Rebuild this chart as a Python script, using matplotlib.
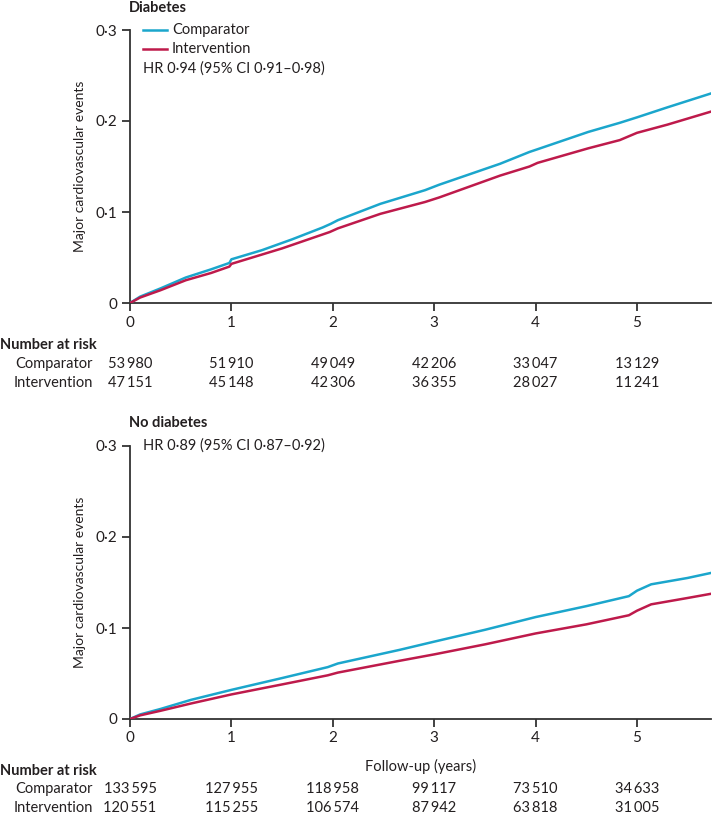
import matplotlib

matplotlib.use("Agg")
import matplotlib.pyplot as plt
import matplotlib.transforms as mtransforms
from matplotlib.lines import Line2D
from matplotlib.ticker import FuncFormatter

plt.rcParams["font.family"] = ["Lato", "DejaVu Sans"]

# ---- data ----
YEARS_DM_CMP = [0, 0.1, 0.3, 0.55, 0.8, 0.98, 1.0, 1.3, 1.6, 1.9, 1.98, 2.05, 2.47,
                2.91, 3.05, 3.65, 3.94, 4.02, 4.52, 4.83, 5.0, 5.3, 5.75]
CMP_DM = [0, 0.007, 0.016, 0.028, 0.037, 0.044, 0.048, 0.058, 0.070, 0.083, 0.087,
          0.091, 0.109, 0.124, 0.130, 0.153, 0.166, 0.169, 0.188, 0.198, 0.204, 0.215, 0.231]
YEARS_DM_INT = [0, 0.1, 0.3, 0.55, 0.8, 0.98, 1.0, 1.5, 1.97, 2.05, 2.47, 2.91, 3.05,
                3.65, 3.94, 4.02, 4.52, 4.83, 5.0, 5.3, 5.75]
INT_DM = [0, 0.006, 0.014, 0.025, 0.033, 0.040, 0.043, 0.060, 0.078, 0.082, 0.098,
          0.111, 0.116, 0.140, 0.150, 0.154, 0.170, 0.179, 0.187, 0.196, 0.211]

YEARS_ND = [0, 0.1, 0.3, 0.6, 1.0, 1.5, 1.95, 2.05, 2.66, 3.0, 3.5, 4.0, 4.5, 4.92,
            5.0, 5.14, 5.5, 5.75]
CMP_ND = [0, 0.005, 0.011, 0.021, 0.032, 0.045, 0.057, 0.061, 0.076, 0.085, 0.098,
          0.112, 0.124, 0.135, 0.141, 0.148, 0.155, 0.161]
INT_ND = [0, 0.004, 0.009, 0.017, 0.027, 0.038, 0.048, 0.051, 0.064, 0.071, 0.082,
          0.094, 0.104, 0.114, 0.119, 0.126, 0.133, 0.138]

RISK_YEARS = [0, 1, 2, 3, 4, 5]
RISK_DM_CMP = ["53\u2009980", "51\u2009910", "49\u2009049", "42\u2009206", "33\u2009047", "13\u2009129"]
RISK_DM_INT = ["47\u2009151", "45\u2009148", "42\u2009306", "36\u2009355", "28\u2009027", "11\u2009241"]
RISK_ND_CMP = ["133\u2009595", "127\u2009955", "118\u2009958", "99\u2009117", "73\u2009510", "34\u2009633"]
RISK_ND_INT = ["120\u2009551", "115\u2009255", "106\u2009574", "87\u2009942", "63\u2009818", "31\u2009005"]

C_CMP = "#1BA6CC"
C_INT = "#BE1A4B"
INK = "#231F20"
W, H = 712, 815


def fx(px):
    return px / W


def fy(py):
    return 1 - py / H


fig = plt.figure(figsize=(W / 100, H / 100), dpi=100)
ax_top = fig.add_axes([fx(130), fy(303), fx(711) - fx(130), fy(30) - fy(303)])
ax_bot = fig.add_axes([fx(130), fy(719), fx(711) - fx(130), fy(446) - fy(719)])

fmt = FuncFormatter(lambda v, p: "0" if abs(v) < 1e-9 else f"{v:.1f}".replace(".", "\u00b7"))

for ax in (ax_top, ax_bot):
    ax.set_xlim(0, 5.73)
    ax.set_ylim(0, 0.3)
    ax.set_xticks(RISK_YEARS)
    ax.set_yticks([0, 0.1, 0.2, 0.3])
    ax.yaxis.set_major_formatter(fmt)
    for s in ("top", "right"):
        ax.spines[s].set_visible(False)
    for s in ("left", "bottom"):
        ax.spines[s].set_color("#333333")
        ax.spines[s].set_linewidth(1.3)
    ax.tick_params(direction="out", length=6, width=1.3, color="#333333",
                   labelsize=11, labelcolor=INK, pad=3)
    ax.set_ylabel("Major cardiovascular events", fontsize=10, color=INK, labelpad=7)

ax_top.plot(YEARS_DM_CMP, CMP_DM, color=C_CMP, lw=1.8, zorder=3)
ax_top.plot(YEARS_DM_INT, INT_DM, color=C_INT, lw=1.8, zorder=4)
ax_bot.plot(YEARS_ND, CMP_ND, color=C_CMP, lw=1.8, zorder=3)
ax_bot.plot(YEARS_ND, INT_ND, color=C_INT, lw=1.8, zorder=4)

ax_bot.set_xlabel("Follow-up (years)", fontsize=10.5, color=INK, labelpad=10)

# titles, legend, HR text
fig.text(fx(129), fy(8), "Diabetes", fontsize=10.5, fontweight="bold", color=INK,
         ha="left", va="center")
fig.text(fx(129), fy(423), "No diabetes", fontsize=10.5, fontweight="bold", color=INK,
         ha="left", va="center")
for py, col, lab in ((30, C_CMP, "Comparator"), (49, C_INT, "Intervention")):
    fig.add_artist(Line2D([fx(143), fx(167)], [fy(py), fy(py)], color=col, lw=1.8))
    fig.text(fx(172), fy(py), lab, fontsize=10.5, color=INK, ha="left", va="center")
fig.text(fx(143), fy(69), "HR 0\u00b794 (95% CI 0\u00b791\u20130\u00b798)", fontsize=10.5,
         color=INK, ha="left", va="center")
fig.text(fx(143), fy(446), "HR 0\u00b789 (95% CI 0\u00b787\u20130\u00b792)", fontsize=10.5,
         color=INK, ha="left", va="center")

# number at risk tables
def risk_table(ax, y_head, y_cmp, y_int, cmp_vals, int_vals):
    fig.text(0.0, fy(y_head), "Number at risk", fontsize=10.5, fontweight="bold",
             color=INK, ha="left", va="center")
    fig.text(fx(93), fy(y_cmp), "Comparator", fontsize=10.5, color=INK, ha="right", va="center")
    fig.text(fx(93), fy(y_int), "Intervention", fontsize=10.5, color=INK, ha="right", va="center")
    tr = mtransforms.blended_transform_factory(ax.transData, fig.transFigure)
    for x, c, i in zip(RISK_YEARS, cmp_vals, int_vals):
        fig.text(x, fy(y_cmp), c, transform=tr, fontsize=10.5, color=INK, ha="center", va="center")
        fig.text(x, fy(y_int), i, transform=tr, fontsize=10.5, color=INK, ha="center", va="center")


risk_table(ax_top, 345, 364, 383, RISK_DM_CMP, RISK_DM_INT)
risk_table(ax_bot, 771, 789, 808, RISK_ND_CMP, RISK_ND_INT)

fig.savefig("out.png", dpi=100)
